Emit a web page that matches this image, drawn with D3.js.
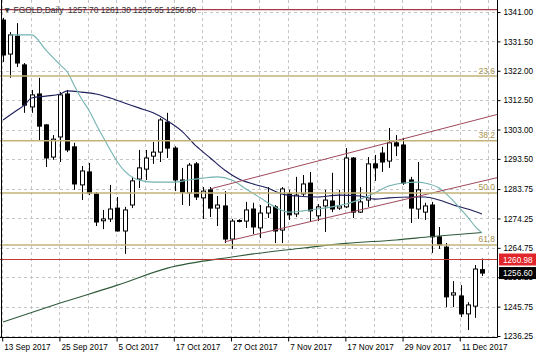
<!DOCTYPE html>
<html><head><meta charset="utf-8">
<script src="https://cdn.jsdelivr.net/npm/d3@7"></script>
<style>html,body{margin:0;padding:0;background:#fff;overflow:hidden}</style>
</head><body>
<svg id="chart" width="536" height="357"></svg>
<script>
// ---------- data ----------
const symbolName = "FGOLD,Daily";
const dateLabels = ["13 Sep 2017","25 Sep 2017","5 Oct 2017","17 Oct 2017","27 Oct 2017","7 Nov 2017","17 Nov 2017","29 Nov 2017","11 Dec 2017"];
const dateLabelBars = [0,8,16,24,32,40,48,56,64];
const priceTicks = [1341.00,1331.50,1322.00,1312.50,1303.00,1293.50,1283.75,1274.25,1264.75,1255.25,1245.75,1236.25];

const openP  = [1338.4,1327.4,1333.2,1323.9,1310.3,1314.5,1304.5,1294.1,1300.6,1314.5,1297.4,1285.1,1289.3,1282.2,1273.5,1274.1,1277.6,1270.2,1278.6,1287.0,1290.2,1294.4,1295.7,1305.4,1297.0,1286.7,1282.5,1291.9,1280.9,1283.5,1277.6,1278.3,1267.6,1273.6,1273.4,1277.3,1271.2,1276.0,1278.0,1270.5,1282.2,1275.7,1282.2,1285.7,1275.1,1278.3,1279.9,1277.6,1278.0,1293.8,1276.3,1280.2,1291.9,1295.4,1292.8,1298.7,1298.0,1286.7,1277.3,1276.3,1278.6,1268.3,1265.0,1249.5,1249.2,1243.4,1245.9,1257.70];
const highP  = [1339.1,1334.5,1337.4,1324.5,1315.8,1319.7,1304.8,1301.2,1315.1,1315.8,1298.7,1291.2,1292.2,1282.8,1277.0,1285.1,1281.2,1278.0,1287.7,1296.4,1296.4,1299.0,1306.7,1308.4,1297.6,1290.6,1292.2,1292.5,1284.4,1284.4,1281.5,1283.1,1274.1,1274.0,1279.6,1279.3,1278.6,1284.4,1278.6,1284.4,1283.5,1287.7,1288.3,1289.3,1278.9,1283.5,1289.0,1283.5,1297.0,1294.1,1284.4,1294.1,1294.8,1297.4,1303.5,1301.2,1300.3,1287.7,1292.5,1279.3,1279.6,1271.5,1266.3,1254.0,1252.7,1247.2,1259.2,1261.30];
const lowP   = [1324.8,1319.7,1323.2,1308.4,1308.4,1299.6,1290.9,1293.2,1292.5,1295.7,1283.5,1280.2,1281.8,1271.8,1270.8,1273.1,1270.0,1262.8,1277.6,1284.1,1286.7,1291.9,1292.5,1293.8,1283.1,1278.6,1278.3,1280.2,1274.1,1274.7,1271.8,1266.3,1264.4,1273.0,1271.2,1269.2,1267.9,1274.4,1266.3,1266.3,1273.8,1274.7,1281.2,1273.1,1273.4,1269.9,1276.3,1277.0,1277.6,1274.4,1276.0,1278.0,1286.4,1289.3,1290.6,1294.4,1285.1,1272.8,1274.1,1273.8,1263.1,1264.4,1245.6,1245.6,1242.4,1238.2,1242.1,1255.65];
const closeP = [1327.1,1333.6,1324.5,1310.9,1314.2,1304.1,1293.8,1299.9,1314.2,1296.4,1285.4,1289.6,1282.5,1273.1,1274.1,1277.3,1270.2,1277.0,1286.4,1290.6,1293.8,1295.7,1306.1,1297.0,1286.7,1282.8,1291.5,1281.2,1283.1,1277.6,1278.6,1267.6,1273.4,1273.3,1277.0,1271.5,1276.0,1278.0,1270.2,1283.8,1275.4,1281.8,1285.4,1276.7,1278.0,1280.2,1277.3,1278.3,1293.8,1276.3,1279.6,1291.9,1290.6,1292.5,1298.7,1297.7,1285.7,1277.6,1283.5,1278.3,1268.3,1265.7,1248.9,1250.2,1243.4,1246.3,1257.9,1256.60];

// moving averages (bar index, value)
const maFastBars = [1,4,6,8,9,10,11,12,13,14,15,16,17,18,19,21,24,26,28,30,32,34,36,38,40,42,44,46,48,50,52,54,56,58,59,61,62,63,64,65,66,67];
const maFastVals = [1333.6,1333.6,1328.7,1323.9,1321.6,1317.1,1312.9,1309.3,1304.8,1300.6,1296.4,1292.5,1289.6,1287.7,1286.7,1286.0,1286.0,1286.7,1287.3,1287.7,1286.7,1283.8,1280.9,1278.0,1276.3,1276.7,1277.3,1278.0,1278.9,1280.5,1282.5,1284.8,1285.7,1286.0,1285.7,1284.1,1282.2,1279.9,1277.3,1274.7,1271.8,1269.6];
const maMidBars = [0,2,3,4,6,8,9,11,13,15,17,19,21,23,25,27,29,31,33,35,37,39,41,44,47,50,52,54,57,59,61,63,65,67];
const maMidVals = [1306.1,1309.3,1310.9,1313.2,1313.8,1314.5,1315.5,1315.1,1314.5,1313.2,1311.6,1310.0,1308.4,1305.8,1302.5,1297.7,1293.8,1289.9,1287.0,1285.4,1284.1,1282.2,1281.5,1281.2,1281.8,1281.5,1280.5,1280.9,1281.2,1281.2,1280.2,1278.6,1277.3,1275.7];
const maSlowBars = [0,8,16,23,32,35,42,48,55,60,67];
const maSlowVals = [1240.8,1246.9,1252.7,1258.2,1261.8,1262.8,1264.7,1266.2,1267.3,1268.4,1269.7];

// objects
const fibLabels = ["23.6","38.2","50.0","61.8"];
const fibPrices = [1320.3,1299.4,1282.5,1265.7];
const channelUpper = [[29,1283.8],[65,1305.4]];
const channelLower = [[31,1266.7],[65,1285.2]];
const redLevel = 1260.98;
const topLevel = 1341.8;

// ---------- layout ----------
const W = 536, H = 357;
const plotL = 0, plotR = 497, plotT = 0, plotB = 337;
const FONT = "'Liberation Sans', Arial, sans-serif";

const x = d3.scaleLinear().domain([0, 67]).range([3, 482]);
const y = d3.scaleLinear().domain([1236.25, 1341]).range([336, 12]);

const svg = d3.select("#chart");
svg.append("rect").attr("width", W).attr("height", H).attr("fill", "#fff");
svg.append("defs").append("clipPath").attr("id", "pc")
  .append("rect").attr("x", plotL).attr("y", plotT).attr("width", plotR - plotL).attr("height", plotB - plotT);
const plot = svg.append("g").attr("clip-path", "url(#pc)");

// grid
plot.selectAll(".hg").data(priceTicks).join("line")
  .attr("x1", plotL).attr("x2", plotR)
  .attr("y1", d => Math.round(y(d)) + 0.5).attr("y2", d => Math.round(y(d)) + 0.5)
  .attr("stroke", "#c4c4c4").attr("stroke-dasharray", "3,3");
plot.selectAll(".vg").data(d3.range(0, 70, 4)).join("line")
  .attr("x1", d => Math.round(x(d)) - 0.5).attr("x2", d => Math.round(x(d)) - 0.5)
  .attr("y1", plotT).attr("y2", plotB)
  .attr("stroke", "#c4c4c4").attr("stroke-dasharray", "3,3");

// candles
const idx = d3.range(openP.length);
const cg = plot.append("g");
cg.selectAll(".wick").data(idx).join("line")
  .attr("x1", i => Math.round(x(i)) + 0.5).attr("x2", i => Math.round(x(i)) + 0.5)
  .attr("y1", i => y(highP[i])).attr("y2", i => y(lowP[i]))
  .attr("stroke", "#000").attr("stroke-width", 1);
cg.selectAll(".body").data(idx).join("rect")
  .attr("x", i => Math.round(x(i)) - 1.5)
  .attr("width", 4)
  .attr("y", i => y(Math.max(openP[i], closeP[i])))
  .attr("height", i => Math.max(0.6, Math.abs(y(openP[i]) - y(closeP[i]))))
  .attr("fill", i => closeP[i] >= openP[i] ? "#fff" : "#000")
  .attr("stroke", "#000").attr("stroke-width", 1);

// moving averages
const line = d3.line().x(d => x(d[0])).y(d => y(d[1])).curve(d3.curveMonotoneX);
function drawMA(bars, vals, color) {
  plot.append("path").datum(bars.map((b, k) => [b, vals[k]]))
    .attr("d", line).attr("fill", "none").attr("stroke", color).attr("stroke-width", 1.1);
}
drawMA(maSlowBars, maSlowVals, "#2f5a3a");
drawMA(maMidBars, maMidVals, "#1e1e5c");
drawMA(maFastBars, maFastVals, "#72b3b0");

// channel lines (rays to the right edge)
const barRight = x.invert(plotR);
function ray(pts, color) {
  const [a, b] = pts;
  const slope = (b[1] - a[1]) / (b[0] - a[0]);
  const endVal = a[1] + slope * (barRight - a[0]);
  plot.append("line")
    .attr("x1", x(a[0])).attr("y1", y(a[1]))
    .attr("x2", x(barRight)).attr("y2", y(endVal))
    .attr("stroke", color).attr("stroke-width", 1);
}
ray(channelUpper, "#a0485c");
ray(channelLower, "#a0485c");

// fibonacci levels
plot.selectAll(".fib").data(fibPrices).join("line")
  .attr("x1", plotL).attr("x2", plotR)
  .attr("y1", d => y(d)).attr("y2", d => y(d))
  .attr("stroke", "#c2b478").attr("stroke-width", 1.5);
plot.selectAll(".fibt").data(fibPrices).join("text")
  .attr("x", plotR - 2).attr("y", d => y(d) - 2.5)
  .attr("text-anchor", "end")
  .attr("font-family", FONT).attr("font-size", 8.5)
  .attr("fill", "#a8924e")
  .text((d, k) => fibLabels[k]);

// horizontal levels
plot.append("line").attr("x1", plotL).attr("x2", plotR)
  .attr("y1", y(redLevel)).attr("y2", y(redLevel))
  .attr("stroke", "#c43a3a").attr("stroke-width", 1.2);
plot.append("line").attr("x1", plotL).attr("x2", plotR)
  .attr("y1", y(topLevel)).attr("y2", y(topLevel))
  .attr("stroke", "#a33a48").attr("stroke-width", 1.2);

// header
const last = openP.length - 1;
const f2 = d3.format(".2f");
svg.append("text").attr("x", 3).attr("y", 13)
  .attr("font-family", FONT).attr("font-size", 8.4).attr("fill", "#333")
  .style("white-space", "pre")
  .text("\u25BC " + symbolName + "  " + [openP[last], highP[last], lowP[last], closeP[last]].map(f2).join(" "));

// frame
svg.append("line").attr("x1", 1.5).attr("x2", 1.5).attr("y1", 0).attr("y2", plotB).attr("stroke", "#000");
svg.append("line").attr("x1", 0).attr("x2", plotR + 0.5).attr("y1", plotB + 0.5).attr("y2", plotB + 0.5).attr("stroke", "#000");

// axes
const yAxis = d3.axisRight(y).tickValues(priceTicks).tickSize(3).tickPadding(3).tickFormat(f2);
const ya = svg.append("g").attr("transform", `translate(${plotR + 0.5},0)`).call(yAxis);
ya.select(".domain").remove();
ya.append("line").attr("x1", 0).attr("x2", 0).attr("y1", 0).attr("y2", plotB + 0.5).attr("stroke", "#000");
ya.selectAll("text").attr("font-family", FONT).attr("font-size", 8.2).attr("fill", "#000");

const xAxis = d3.axisBottom(x).tickValues(dateLabelBars).tickSize(4).tickPadding(2.5)
  .tickFormat((d, k) => dateLabels[k]);
const xa = svg.append("g").attr("transform", `translate(-0.8,${plotB + 0.5})`).call(xAxis);
xa.select(".domain").remove();
xa.selectAll("text").attr("font-family", FONT).attr("font-size", 8.2).attr("fill", "#000")
  .attr("text-anchor", "start").attr("x", 1.5);

// price tags
function tag(val, bg) {
  const yy = y(val);
  svg.append("rect").attr("x", plotR + 2).attr("y", yy - 6).attr("width", W - plotR - 2).attr("height", 12).attr("fill", bg);
  svg.append("text").attr("x", plotR + 6).attr("y", yy + 3)
    .attr("font-family", FONT).attr("font-size", 8.2).attr("fill", "#fff").text(f2(val));
}
tag(redLevel, "#e0262a");
tag(closeP[last], "#000");
</script>
</body></html>
